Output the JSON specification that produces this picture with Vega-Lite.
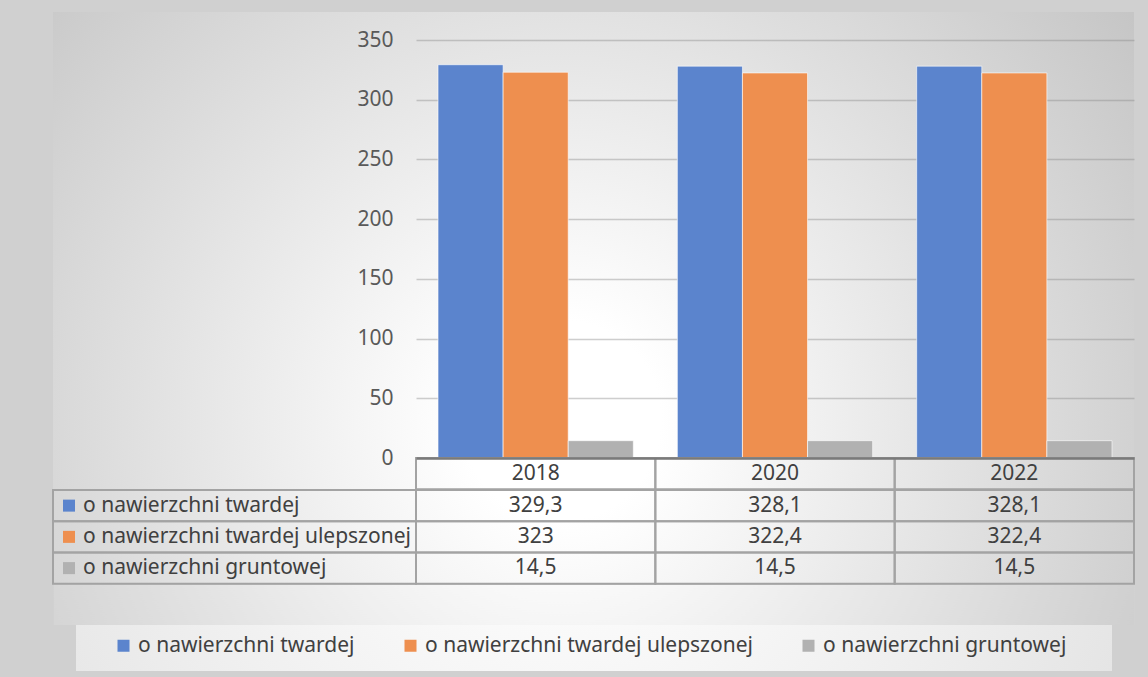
{
  "$schema": "https://vega.github.io/schema/vega-lite/v6.json",
  "background": "#d0d0d0",
  "padding": {"left": 52, "top": 12, "right": 15, "bottom": 8},
  "config": {
    "font": "Noto Sans",
    "view": {"stroke": null},
    "locale": {"number": {"decimal": ",", "thousands": " ", "grouping": [3], "currency": ["", " zł"]}}
  },
  "datasets": {
    "roads": [
      {"year": "2018", "series": "o nawierzchni twardej", "value": 329.3},
      {"year": "2018", "series": "o nawierzchni twardej ulepszonej", "value": 323},
      {"year": "2018", "series": "o nawierzchni gruntowej", "value": 14.5},
      {"year": "2020", "series": "o nawierzchni twardej", "value": 328.1},
      {"year": "2020", "series": "o nawierzchni twardej ulepszonej", "value": 322.4},
      {"year": "2020", "series": "o nawierzchni gruntowej", "value": 14.5},
      {"year": "2022", "series": "o nawierzchni twardej", "value": 328.1},
      {"year": "2022", "series": "o nawierzchni twardej ulepszonej", "value": 322.4},
      {"year": "2022", "series": "o nawierzchni gruntowej", "value": 14.5}
    ],
    "years": [
      {"year": "2018", "row": "rok"},
      {"year": "2020", "row": "rok"},
      {"year": "2022", "row": "rok"}
    ]
  },
  "spacing": 0,
  "center": true,
  "vconcat": [
    {
      "columns": 2,
      "spacing": 0,
      "bounds": "flush",
      "concat": [
        {
          "width": 363,
          "height": 477.25,
          "view": {"fill": {"gradient": "radial", "x1": 1.184, "y1": 0.855, "r1": 0.2095, "x2": 1.184, "y2": 0.855, "r2": 1.509, "stops": [{"offset": 0, "color": "#ffffff"}, {"offset": 1, "color": "#c4c4c4"}]}},
          "data": {"values": [{}]},
          "mark": {"type": "point", "opacity": 0},
          "encoding": {}
        },
        {
          "width": 718,
          "height": 477.25,
          "view": {"fill": {"gradient": "radial", "x1": 0.202, "y1": 0.736, "r1": 0.139, "x2": 0.202, "y2": 0.736, "r2": 1.003, "stops": [{"offset": 0, "color": "#ffffff"}, {"offset": 1, "color": "#c4c4c4"}]}},
          "resolve": {"scale": {"x": "independent", "y": "independent"}},
          "layer": [
            {
              "data": {"name": "roads"},
              "mark": {"type": "bar", "stroke": "#ffffff", "strokeOpacity": 0.6, "strokeWidth": 1},
              "encoding": {
                "x": {
                  "field": "year", "type": "nominal",
                  "scale": {"paddingInner": 0.184, "paddingOuter": 0.092},
                  "axis": {"title": null, "labels": false, "ticks": false, "domain": true, "domainColor": "#7a7a7a", "domainWidth": 2.5, "grid": false, "offset": -31.25, "zindex": 1}
                },
                "xOffset": {
                  "field": "series", "type": "nominal",
                  "scale": {"domain": ["o nawierzchni twardej", "o nawierzchni twardej ulepszonej", "o nawierzchni gruntowej"], "paddingInner": 0, "paddingOuter": 0}
                },
                "y": {
                  "field": "value", "type": "quantitative",
                  "scale": {"domain": [0, 350], "nice": false, "range": [446, 28]},
                  "axis": {"title": null, "values": [0, 50, 100, 150, 200, 250, 300, 350], "domain": false, "ticks": false, "tickSize": 0, "labelPadding": 23, "labelFontSize": 21, "labelColor": "#595959", "gridColor": "#8a8a8a", "gridOpacity": 0.42, "gridWidth": 1.5}
                },
                "color": {
                  "field": "series", "type": "nominal",
                  "scale": {"domain": ["o nawierzchni twardej", "o nawierzchni twardej ulepszonej", "o nawierzchni gruntowej"], "range": ["#5b84cd", "#ee8f4f", "#b1b1b1"]},
                  "legend": {"orient": "none", "legendX": 60, "legendY": 623, "direction": "horizontal", "columns": 3, "title": null, "symbolType": "square", "symbolSize": 144, "symbolStrokeWidth": 0, "symbolOpacity": 1, "labelFontSize": 21, "labelColor": "#404040", "labelOffset": 4, "columnPadding": 45, "labelLimit": 600, "padding": 0}
                }
              }
            },
            {
              "data": {"name": "years"},
              "mark": {"type": "rect", "filled": false, "color": "#a3a3a3", "strokeWidth": 2},
              "encoding": {
                "x": {"field": "year", "type": "nominal", "scale": {"paddingInner": 0, "paddingOuter": 0}, "axis": null},
                "y": {"field": "row", "type": "nominal", "scale": {"range": [446, 477.25], "paddingInner": 0, "paddingOuter": 0}, "axis": null}
              }
            },
            {
              "data": {"name": "years"},
              "mark": {"type": "text", "baseline": "middle", "fontSize": 21, "color": "#404040"},
              "encoding": {
                "x": {"field": "year", "type": "nominal", "scale": {"paddingInner": 0, "paddingOuter": 0}, "axis": null},
                "y": {"field": "row", "type": "nominal", "scale": {"range": [446, 477.25], "paddingInner": 0, "paddingOuter": 0}, "axis": null},
                "text": {"field": "year"}
              }
            }
          ]
        },
        {
          "width": 363,
          "height": 93.75,
          "data": {"name": "roads"},
          "transform": [{"filter": "datum.year == '2018'"}],
          "encoding": {
            "y": {"field": "series", "type": "nominal", "scale": {"domain": ["o nawierzchni twardej", "o nawierzchni twardej ulepszonej", "o nawierzchni gruntowej"], "paddingInner": 0, "paddingOuter": 0}, "axis": null}
          },
          "view": {"fill": {"gradient": "radial", "x1": 1.399, "y1": 0.18, "r1": 0.275, "x2": 1.399, "y2": 0.18, "r2": 1.983, "stops": [{"offset": 0, "color": "#ffffff"}, {"offset": 1, "color": "#c4c4c4"}]}},
          "layer": [
            {"mark": {"type": "rect", "filled": false, "color": "#a3a3a3", "strokeWidth": 2}},
            {"mark": {"type": "square", "size": 144, "opacity": 1, "filled": true, "xOffset": -165.5}, "encoding": {"color": {"field": "series", "type": "nominal"}}},
            {"mark": {"type": "text", "align": "left", "baseline": "middle", "dx": -151.5, "fontSize": 21, "color": "#404040"}, "encoding": {"text": {"field": "series"}}}
          ]
        },
        {
          "width": 718,
          "height": 93.75,
          "data": {"name": "roads"},
          "view": {"fill": {"gradient": "radial", "x1": 0.202, "y1": 0.338, "r1": 0.139, "x2": 0.202, "y2": 0.338, "r2": 1.003, "stops": [{"offset": 0, "color": "#ffffff"}, {"offset": 1, "color": "#c4c4c4"}]}},
          "encoding": {
            "x": {"field": "year", "type": "nominal", "scale": {"paddingInner": 0, "paddingOuter": 0}, "axis": null},
            "y": {"field": "series", "type": "nominal", "scale": {"domain": ["o nawierzchni twardej", "o nawierzchni twardej ulepszonej", "o nawierzchni gruntowej"], "paddingInner": 0, "paddingOuter": 0}, "axis": null}
          },
          "layer": [
            {"mark": {"type": "rect", "filled": false, "color": "#a3a3a3", "strokeWidth": 2}},
            {"mark": {"type": "text", "baseline": "middle", "fontSize": 21, "color": "#404040"}, "encoding": {"text": {"field": "value", "type": "quantitative", "format": "~g"}}}
          ]
        }
      ]
    },
    {
      "width": 1081,
      "height": 40,
      "view": {"fill": {"gradient": "radial", "x1": 0.47, "y1": 0.331, "r1": 0.0925, "x2": 0.47, "y2": 0.331, "r2": 0.666, "stops": [{"offset": 0, "color": "#ffffff"}, {"offset": 1, "color": "#c4c4c4"}]}},
      "data": {"values": [{}]},
      "mark": {"type": "point", "opacity": 0},
      "encoding": {}
    },
    {
      "width": 1036,
      "height": 46,
      "view": {"fill": {"gradient": "radial", "x1": 0.4686, "y1": 0.2819, "r1": 0.0965, "x2": 0.4686, "y2": 0.2819, "r2": 0.695, "stops": [{"offset": 0, "color": "#ffffff"}, {"offset": 1, "color": "#dfdfdf"}]}},
      "data": {"values": [{}]},
      "mark": {"type": "point", "opacity": 0},
      "encoding": {}
    }
  ]
}
